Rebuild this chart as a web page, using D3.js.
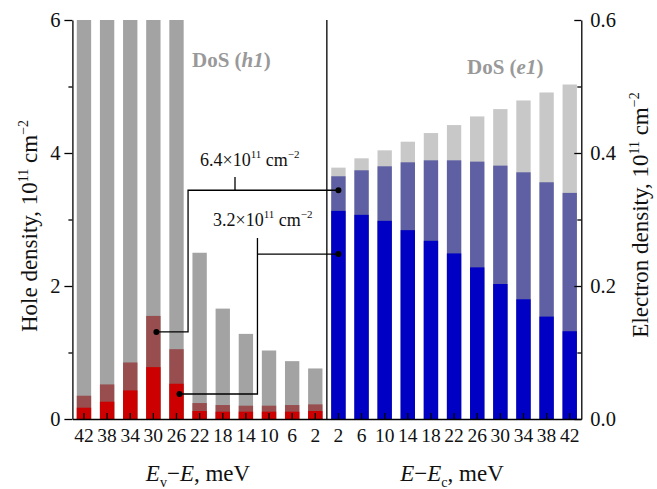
<!DOCTYPE html>
<html><head><meta charset="utf-8">
<script src="https://cdn.jsdelivr.net/npm/d3@7"></script>
<style>body{margin:0;background:#fff}svg{display:block}svg text{font-family:"Liberation Serif","Times New Roman",serif !important}</style>
</head><body><svg id="c" width="657" height="489"></svg>
<script>
// ---- data ----
const holeLabels = ["42","38","34","30","26","22","18","14","10","6","2"];
const holeDos  = [6.0, 6.0, 6.0, 6.0, 6.0, 2.50, 1.66, 1.28, 1.03, 0.87, 0.76];
const holeMid  = [0.35, 0.52, 0.85, 1.55, 1.05, 0.24, 0.21, 0.20, 0.20, 0.21, 0.22];
const holeLow  = [0.17, 0.26, 0.43, 0.78, 0.53, 0.12, 0.11, 0.11, 0.11, 0.11, 0.12];
const elecLabels = ["2","6","10","14","18","22","26","30","34","38","42"];
const elecDos  = [0.378, 0.392, 0.404, 0.417, 0.430, 0.442, 0.455, 0.466, 0.479, 0.491, 0.503];
const elecMid  = [0.365, 0.374, 0.380, 0.386, 0.389, 0.389, 0.387, 0.381, 0.371, 0.356, 0.340];
const elecLow  = [0.313, 0.307, 0.298, 0.284, 0.268, 0.249, 0.228, 0.203, 0.180, 0.154, 0.132];
const holeTicks = [0, 2, 4, 6];
const elecTicks = [0, 0.2, 0.4, 0.6];
const annotations = [
  {mant:"6.4", holeCat:"30", holeVal:1.31, elecVal:0.344},
  {mant:"3.2", holeCat:"26", holeVal:0.376, elecVal:0.248}
];

// ---- layout ----
const svg = d3.select("#c");
const L = 72.4, R = 581.3, T = 20, B = 419;
const cats = holeLabels.map(d => "h" + d).concat(elecLabels.map(d => "e" + d));
const x = d3.scaleBand().domain(cats).range([L, R]).paddingInner(0.38).paddingOuter(0.19);
const yH = d3.scaleLinear().domain([0, 6]).range([B, T]);
const yE = d3.scaleLinear().domain([0, 0.6]).range([B, T]);

const col = {hDos:"#a3a3a3", hMid:"#984e4e", hLow:"#cc0000", eDos:"#c8c8c8", eMid:"#5e60a3", eLow:"#0000c4"};

function bars(labels, vals, prefix, y, color) {
  svg.append("g").selectAll("rect").data(labels).join("rect")
    .attr("x", d => x(prefix + d)).attr("width", x.bandwidth())
    .attr("y", (d, i) => y(Math.min(vals[i], y.domain()[1])))
    .attr("height", (d, i) => B - y(Math.min(vals[i], y.domain()[1])))
    .attr("fill", color);
}
bars(holeLabels, holeDos, "h", yH, col.hDos);
bars(holeLabels, holeMid, "h", yH, col.hMid);
bars(holeLabels, holeLow, "h", yH, col.hLow);
bars(elecLabels, elecDos, "e", yE, col.eDos);
bars(elecLabels, elecMid, "e", yE, col.eMid);
bars(elecLabels, elecLow, "e", yE, col.eLow);

// ---- axes ----
const fs = 19.5;
const xAxis = d3.axisBottom(x).tickSize(-6).tickSizeOuter(0).tickPadding(9)
  .tickFormat(d => d.slice(1));
const gx = svg.append("g").attr("transform", `translate(0,${B})`).call(xAxis);
gx.selectAll("text").attr("font-size", fs).attr("fill", "#111");

const gl = svg.append("g").attr("transform", `translate(${L},0)`)
  .call(d3.axisLeft(yH).tickValues(holeTicks).tickFormat(d3.format("d")).tickSize(8).tickSizeOuter(0).tickPadding(4));
gl.selectAll("text").attr("font-size", 20.5).attr("fill", "#111");
svg.append("g").attr("transform", `translate(${L},0)`)
  .call(d3.axisLeft(yH).tickValues([1,3,5]).tickFormat("").tickSize(4).tickSizeOuter(0))
  .select(".domain").remove();

const gr = svg.append("g").attr("transform", `translate(${R},0)`)
  .call(d3.axisRight(yE).tickValues(elecTicks).tickFormat(d3.format(".1f")).tickSize(-7).tickSizeOuter(0).tickPadding(9));
gr.selectAll("text").attr("font-size", 20.5).attr("fill", "#111");
svg.append("g").attr("transform", `translate(${R},0)`)
  .call(d3.axisRight(yE).tickValues([0.1,0.3,0.5]).tickFormat("").tickSize(-4).tickSizeOuter(0))
  .select(".domain").remove();
svg.selectAll(".domain").attr("stroke", "#000").attr("stroke-width", 1.3);
svg.selectAll(".tick line").attr("stroke", "#000").attr("stroke-width", 1.3);

// divider
const xDiv = x("h2") + x.bandwidth() / 2 + x.step() / 2;
svg.append("line").attr("x1", xDiv).attr("x2", xDiv).attr("y1", T).attr("y2", B)
  .attr("stroke", "#000").attr("stroke-width", 1.3);

// ---- titles ----
function densityTitle(tx, ty, word) {
  const t = svg.append("text").attr("transform", `translate(${tx},${ty}) rotate(-90)`)
    .attr("text-anchor", "middle").attr("font-size", 23).attr("fill", "#111");
  t.append("tspan").text(word + " density, 10");
  t.append("tspan").attr("font-size", 14).attr("dy", -9).text("11");
  t.append("tspan").attr("dy", 9).text(" cm");
  t.append("tspan").attr("font-size", 14).attr("dy", -9).text("\u22122");
}
densityTitle(37, 226, "Hole");
densityTitle(648, 215, "Electron");

function energyTitle(cx, parts) {
  const t = svg.append("text").attr("x", cx).attr("y", 481).attr("text-anchor", "middle")
    .attr("font-size", 23).attr("fill", "#111");
  parts.forEach(p => {
    const s = t.append("tspan").text(p.t);
    if (p.i) s.attr("font-style", "italic");
    if (p.sub) s.attr("font-size", 14).attr("dy", 6);
    if (p.up) s.attr("dy", -6);
  });
}
energyTitle(198, [{t:"E", i:1}, {t:"v", sub:1}, {t:"\u2212", up:1}, {t:"E", i:1}, {t:", meV"}]);
energyTitle(452, [{t:"E", i:1}, {t:"\u2212"}, {t:"E", i:1}, {t:"c", sub:1}, {t:", meV", up:1}]);

function dosLabel(lx, ly, sym) {
  const t = svg.append("text").attr("x", lx).attr("y", ly).attr("font-size", 21)
    .attr("font-weight", "bold").attr("fill", "#999");
  t.append("tspan").text("DoS (");
  t.append("tspan").attr("font-style", "italic").text(sym);
  t.append("tspan").text(")");
}
dosLabel(192, 67, "h1");
dosLabel(467, 74, "e1");

// ---- annotations ----
const bx = c => x(c) + x.bandwidth() / 2;
const elbow = [bx("h26") + x.step() / 2, bx("h14") + x.step() / 2];
const tickX = [235, elbow[1]];
const tickTop = [177, 238];
const textPos = [[200, 166], [213, 226]];
annotations.forEach((a, k) => {
  const x0 = bx("h" + a.holeCat) + 3, y0 = yH(a.holeVal);
  const x1 = bx("e2"), y1 = yE(a.elecVal);
  const ex = elbow[k];
  const g = svg.append("g").attr("fill", "none").attr("stroke", "#000").attr("stroke-width", 1.3);
  if (k === 0) {
    g.append("path").attr("d", `M${x0},${y0}H${ex}V${y1}H${x1}`);
    g.append("path").attr("d", `M${tickX[k]},${tickTop[k]}V${y1}`);
  } else {
    g.append("path").attr("d", `M${x0},${y0}H${ex}V${tickTop[k]}`);
    g.append("path").attr("d", `M${ex},${y1}H${x1}`);
  }
  svg.append("circle").attr("cx", x0).attr("cy", y0).attr("r", 3).attr("fill", "#000");
  svg.append("circle").attr("cx", x1).attr("cy", y1).attr("r", 3).attr("fill", "#000");
  const t = svg.append("text").attr("x", textPos[k][0]).attr("y", textPos[k][1])
    .attr("font-size", 18).attr("fill", "#111");
  t.append("tspan").text(a.mant + "\u00d710");
  t.append("tspan").attr("font-size", 11).attr("dy", -8).text("11");
  t.append("tspan").attr("dy", 8).text(" cm");
  t.append("tspan").attr("font-size", 11).attr("dy", -8).text("\u22122");
});
</script></body></html>
